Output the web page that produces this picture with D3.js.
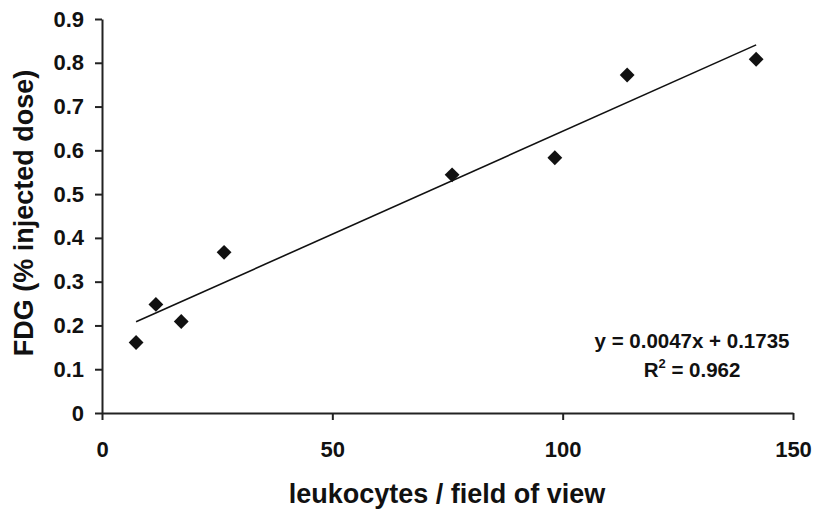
<!DOCTYPE html>
<html>
<head>
<meta charset="utf-8">
<script src="https://cdn.jsdelivr.net/npm/d3@7"></script>
<style>
  body { margin: 0; background: #fff; }
  text { font-family: "Liberation Sans", Arial, sans-serif; font-weight: bold; fill: #111; }
</style>
</head>
<body>
<script>
var leukocytes = [7.4, 11.7, 17.2, 26.5, 76, 98.3, 114, 142];
var fdg = [0.161, 0.248, 0.209, 0.367, 0.544, 0.583, 0.772, 0.808];
var xTicks = [0, 50, 100, 150];
var yTicks = [0, 0.1, 0.2, 0.3, 0.4, 0.5, 0.6, 0.7, 0.8, 0.9];
var slope = 0.0047, intercept = 0.1735;

var w = 815, h = 509;
var margin = {left: 102, right: 22, top: 19, bottom: 96};

var svg = d3.select("body").append("svg")
    .attr("width", w)
    .attr("height", h);

var x = d3.scaleLinear().domain([0, 150]).range([margin.left, w - margin.right]);
var y = d3.scaleLinear().domain([0, 0.9]).range([h - margin.bottom, margin.top]);

// axes
svg.append("g")
    .attr("transform", "translate(0," + y(0) + ")")
    .call(d3.axisBottom(x).tickValues(xTicks).tickSize(7).tickPadding(21).tickSizeOuter(0));
svg.append("g")
    .attr("transform", "translate(" + x(0) + ",0)")
    .call(d3.axisLeft(y).tickValues(yTicks).tickSize(7).tickPadding(11).tickSizeOuter(0)
      .tickFormat(function(d) { return d === 0 ? "0" : d3.format(".1f")(d); }));

svg.selectAll(".domain, .tick line")
    .attr("stroke", "#222")
    .attr("stroke-width", 2);
svg.selectAll(".tick text")
    .attr("font-size", "22px")
    .attr("fill", "#111");

// trend line
var xs = d3.extent(leukocytes);
svg.append("line")
    .attr("x1", x(xs[0])).attr("y1", y(slope * xs[0] + intercept))
    .attr("x2", x(xs[1])).attr("y2", y(slope * xs[1] + intercept))
    .attr("stroke", "#111")
    .attr("stroke-width", 1.6);

// points
svg.selectAll(".pt")
    .data(leukocytes)
    .enter()
    .append("path")
    .attr("class", "pt")
    .attr("d", d3.symbol().type(d3.symbolSquare).size(110))
    .attr("transform", function(d, i) {
      return "translate(" + x(d) + "," + y(fdg[i]) + ") rotate(45)";
    })
    .attr("fill", "#111");

// axis titles
svg.append("text")
    .attr("x", 447)
    .attr("y", 503)
    .attr("text-anchor", "middle")
    .attr("font-size", "27px")
    .text("leukocytes / field of view");

svg.append("text")
    .attr("transform", "translate(33,213) rotate(-90)")
    .attr("text-anchor", "middle")
    .attr("font-size", "27px")
    .text("FDG (% injected dose)");

// equation
svg.append("text")
    .attr("x", 692)
    .attr("y", 348)
    .attr("text-anchor", "middle")
    .attr("font-size", "20.5px")
    .text("y = 0.0047x + 0.1735");

var r2 = svg.append("text")
    .attr("x", 692)
    .attr("y", 377)
    .attr("text-anchor", "middle")
    .attr("font-size", "20.5px");
r2.append("tspan").text("R");
r2.append("tspan").attr("dy", -9).attr("font-size", "13px").text("2");
r2.append("tspan").attr("dy", 9).text(" = 0.962");
</script>
</body>
</html>
